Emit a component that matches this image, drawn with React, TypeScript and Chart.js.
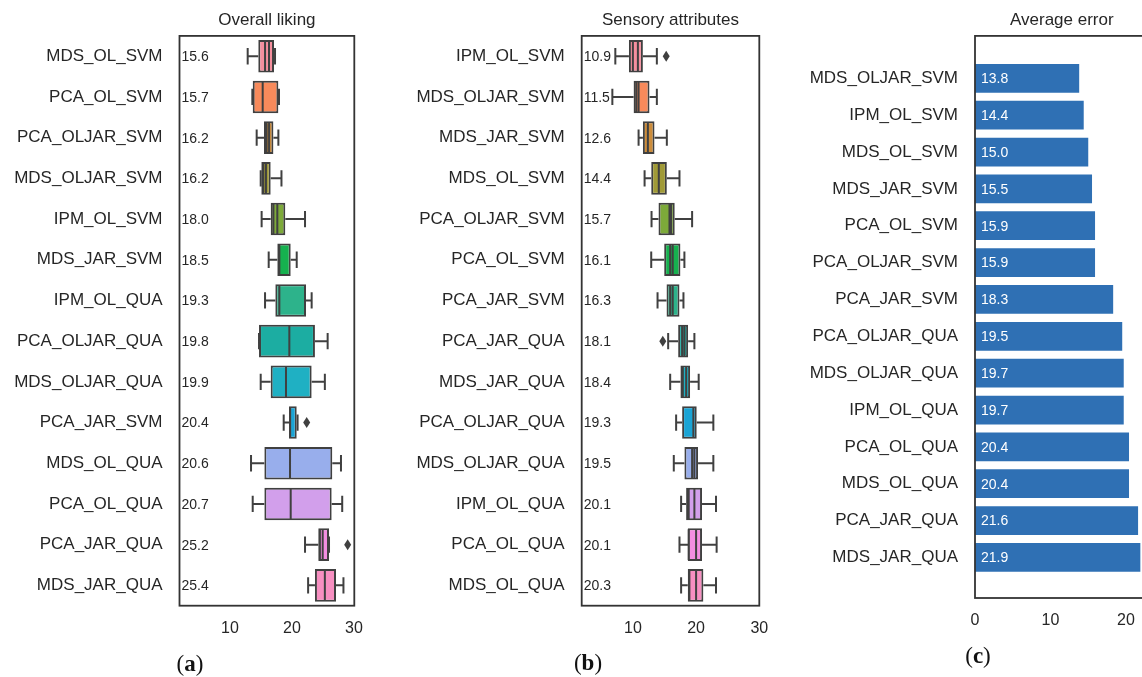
import React, { useEffect, useRef } from "react";
import { Chart, registerables } from "chart.js";

Chart.register(...registerables);

// ---------- DATA ----------
const categoriesA = [
  "MDS_OL_SVM", "PCA_OL_SVM", "PCA_OLJAR_SVM", "MDS_OLJAR_SVM", "IPM_OL_SVM", "MDS_JAR_SVM", "IPM_OL_QUA",
  "PCA_OLJAR_QUA", "MDS_OLJAR_QUA", "PCA_JAR_SVM", "MDS_OL_QUA", "PCA_OL_QUA", "PCA_JAR_QUA", "MDS_JAR_QUA",
];
const meanLabelsA = [15.6, 15.7, 16.2, 16.2, 18.0, 18.5, 19.3, 19.8, 19.9, 20.4, 20.6, 20.7, 25.2, 25.4];
const whiskerLoA = [12.85, 13.6, 14.3, 14.95, 15.1, 16.24, 15.65, 14.68, 14.95, 18.66, 13.39, 13.66, 22.1, 22.6];
const q1A = [14.56, 13.66, 15.48, 15.05, 16.56, 17.63, 17.31, 14.68, 16.56, 19.52, 15.54, 15.54, 24.24, 23.7];
const medianA = [16.29, 15.27, 15.9, 15.37, 17.0, 17.96, 17.96, 19.57, 19.03, 19.7, 19.68, 19.79, 24.5, 25.3];
const meanLineA = [15.65, 15.27, 16.3, 15.8, 17.63, 17.96, 17.96, 19.57, 19.03, 19.7, 19.68, 19.79, 24.95, 25.3];
const q3A = [17.1, 17.8, 17.0, 16.56, 18.92, 19.79, 22.26, 23.7, 23.17, 20.76, 26.5, 26.4, 25.97, 27.1];
const whiskerHiA = [17.26, 17.9, 17.8, 18.3, 22.1, 20.76, 23.17, 25.75, 25.3, 20.9, 27.9, 28.1, 25.97, 28.3];
const fliersA: number[][] = [[], [], [], [], [], [], [], [], [], [22.37], [], [], [28.98], []];

const categoriesB = [
  "IPM_OL_SVM", "MDS_OLJAR_SVM", "MDS_JAR_SVM", "MDS_OL_SVM", "PCA_OLJAR_SVM", "PCA_OL_SVM", "PCA_JAR_SVM",
  "PCA_JAR_QUA", "MDS_JAR_QUA", "PCA_OLJAR_QUA", "MDS_OLJAR_QUA", "IPM_OL_QUA", "PCA_OL_QUA", "MDS_OL_QUA",
];
const meanLabelsB = [10.9, 11.5, 12.6, 14.4, 15.7, 16.1, 16.3, 18.1, 18.4, 19.3, 19.5, 20.1, 20.1, 20.3];
const whiskerLoB = [7.22, 6.75, 10.9, 11.85, 12.95, 12.9, 13.9, 15.58, 15.9, 16.84, 16.47, 17.63, 17.37, 17.63];
const q1B = [9.37, 10.11, 11.58, 12.9, 14.05, 14.95, 15.32, 17.16, 17.52, 17.79, 18.15, 18.42, 18.68, 18.68];
const medianB = [10.0, 10.53, 12.37, 14.1, 15.79, 15.9, 15.9, 17.79, 17.9, 19.57, 19.37, 18.83, 18.83, 18.94];
const meanLineB = [10.79, 10.9, 12.37, 14.1, 16.05, 16.3, 16.3, 18.15, 18.43, 19.57, 19.73, 19.73, 20.0, 20.0];
const q3B = [11.58, 12.63, 13.42, 15.37, 16.62, 17.52, 17.37, 18.74, 19.05, 20.1, 20.31, 20.94, 20.94, 21.15];
const whiskerHiB = [13.79, 13.79, 15.37, 17.37, 19.37, 18.15, 18.0, 19.73, 20.41, 22.73, 22.73, 23.15, 23.25, 23.15];
const fliersB: number[][] = [[15.27], [], [], [], [], [], [], [14.73], [], [], [], [], [], []];

const categoriesC = [
  "MDS_OLJAR_SVM", "IPM_OL_SVM", "MDS_OL_SVM", "MDS_JAR_SVM", "PCA_OL_SVM", "PCA_OLJAR_SVM", "PCA_JAR_SVM",
  "PCA_OLJAR_QUA", "MDS_OLJAR_QUA", "IPM_OL_QUA", "PCA_OL_QUA", "MDS_OL_QUA", "PCA_JAR_QUA", "MDS_JAR_QUA",
];
const errorsC = [13.8, 14.4, 15.0, 15.5, 15.9, 15.9, 18.3, 19.5, 19.7, 19.7, 20.4, 20.4, 21.6, 21.9];

const ticksAB = [10, 20, 30];
const ticksC = [0, 10, 20];

// ---------- STYLE ----------
const FONT = "'Liberation Sans', Arial, sans-serif";
const TEXT = "#262626";
const EDGE = "#404040";
const FRAME = "#333333";
const BAR_COLOR = "#2f70b4";
const PALETTE = [
  "#f58f9e", "#f88a5b", "#cd8d3b", "#a09a37", "#7daa3a", "#16b14f", "#2db38b",
  "#1cada2", "#1fb0c3", "#1aa4d5", "#98aeec", "#d29feb", "#f38ee1", "#f78fc1",
];

type Panel = {
  title: string;
  categories: string[];
  lo: number[]; q1: number[]; med: number[]; mean: number[]; q3: number[]; hi: number[];
  fliers: number[][];
  labels: number[];
  xMin: number; xMax: number;
  yAxisWidth: number; padRight: number; xAxisHeight: number;
};

const panelA: Panel = {
  title: "Overall liking", categories: categoriesA,
  lo: whiskerLoA, q1: q1A, med: medianA, mean: meanLineA, q3: q3A, hi: whiskerHiA,
  fliers: fliersA, labels: meanLabelsA,
  xMin: 1.85, xMax: 30.05, yAxisWidth: 179.5, padRight: 15.7, xAxisHeight: 71.3,
};
const panelB: Panel = {
  title: "Sensory attributes", categories: categoriesB,
  lo: whiskerLoB, q1: q1B, med: medianB, mean: meanLineB, q3: q3B, hi: whiskerHiB,
  fliers: fliersB, labels: meanLabelsB,
  xMin: 1.9, xMax: 30.0, yAxisWidth: 201.7, padRight: 15.7, xAxisHeight: 71.3,
};

const framePlugin = {
  id: "frame",
  afterDatasetsDraw(chart: any) {
    const { ctx, chartArea: a } = chart;
    ctx.save();
    ctx.strokeStyle = FRAME;
    ctx.lineWidth = 1.8;
    ctx.strokeRect(a.left, a.top, a.right - a.left, a.bottom - a.top);
    ctx.restore();
  },
};

function makeBoxPlugin(p: Panel) {
  return {
    id: "boxExtras",
    afterDatasetsDraw(chart: any) {
      const { ctx, chartArea } = chart;
      const xs = chart.scales.x;
      const ys = chart.scales.y;
      const meta = chart.getDatasetMeta(0);
      ctx.save();
      ctx.strokeStyle = EDGE;
      ctx.fillStyle = EDGE;
      ctx.lineWidth = 2;
      ctx.lineCap = "butt";
      p.categories.forEach((_, i) => {
        const el = meta.data[i];
        const y = ys.getPixelForValue(i);
        const h = el.height;
        const X = (v: number) => xs.getPixelForValue(v);
        ctx.beginPath();
        ctx.moveTo(X(p.lo[i]), y); ctx.lineTo(X(p.q1[i]), y);
        ctx.moveTo(X(p.q3[i]), y); ctx.lineTo(X(p.hi[i]), y);
        ctx.moveTo(X(p.lo[i]), y - h / 4); ctx.lineTo(X(p.lo[i]), y + h / 4);
        ctx.moveTo(X(p.hi[i]), y - h / 4); ctx.lineTo(X(p.hi[i]), y + h / 4);
        ctx.moveTo(X(p.med[i]), y - h / 2 + 1); ctx.lineTo(X(p.med[i]), y + h / 2 - 1);
        ctx.moveTo(X(p.mean[i]), y - h / 2 + 1); ctx.lineTo(X(p.mean[i]), y + h / 2 - 1);
        ctx.stroke();
        p.fliers[i].forEach((f) => {
          const fx = X(f);
          ctx.beginPath();
          ctx.moveTo(fx, y - 5.5);
          ctx.lineTo(fx + 3.5, y);
          ctx.lineTo(fx, y + 5.5);
          ctx.lineTo(fx - 3.5, y);
          ctx.closePath();
          ctx.fill();
        });
      });
      ctx.fillStyle = TEXT;
      ctx.font = `14px ${FONT}`;
      ctx.textAlign = "left";
      ctx.textBaseline = "middle";
      p.labels.forEach((v, i) => {
        ctx.fillText(v.toFixed(1), chartArea.left + 2, ys.getPixelForValue(i) + 1);
      });
      ctx.restore();
    },
  };
}

const noPadFit = (h: number) => (s: any) => {
  s.height = h;
  s.paddingLeft = 0;
  s.paddingRight = 0;
};

function buildBox(canvas: HTMLCanvasElement, p: Panel) {
  return new Chart(canvas, {
    type: "bar",
    data: {
      labels: p.categories,
      datasets: [
        {
          data: p.q1.map((v, i) => [v, p.q3[i]]),
          backgroundColor: PALETTE,
          borderColor: EDGE,
          borderWidth: 2,
          borderSkipped: false,
          categoryPercentage: 1,
          barPercentage: 0.8,
        } as any,
      ],
    },
    options: {
      indexAxis: "y",
      responsive: false,
      animation: false,
      layout: { padding: { left: 0, right: p.padRight, top: 0, bottom: 0 } },
      plugins: {
        legend: { display: false },
        tooltip: { enabled: false },
        title: {
          display: true,
          text: p.title,
          color: TEXT,
          font: { family: FONT, size: 17, weight: "normal" },
          padding: { top: 10.5, bottom: 5 },
          fullSize: false,
        },
      },
      scales: {
        x: {
          type: "linear",
          min: p.xMin,
          max: p.xMax,
          grid: { display: false, drawTicks: false },
          border: { display: false },
          ticks: { color: TEXT, font: { family: FONT, size: 16 }, padding: 13, maxRotation: 0 },
          afterBuildTicks: (s: any) => { s.ticks = ticksAB.map((v) => ({ value: v })); },
          afterFit: noPadFit(p.xAxisHeight),
        },
        y: {
          type: "category",
          grid: { display: false, drawTicks: false },
          border: { display: false },
          ticks: { color: TEXT, font: { family: FONT, size: 17 }, padding: 17, autoSkip: false },
          afterFit: (s: any) => { s.width = p.yAxisWidth; s.paddingTop = 0; s.paddingBottom = 0; },
        },
      },
    } as any,
    plugins: [framePlugin, makeBoxPlugin(p)],
  });
}

function buildBar(canvas: HTMLCanvasElement) {
  const labelPlugin = {
    id: "barLabels",
    afterDatasetsDraw(chart: any) {
      const { ctx } = chart;
      const meta = chart.getDatasetMeta(0);
      ctx.save();
      ctx.fillStyle = "#ffffff";
      ctx.font = `14px ${FONT}`;
      ctx.textAlign = "left";
      ctx.textBaseline = "middle";
      meta.data.forEach((el: any, i: number) => {
        ctx.fillText(errorsC[i].toFixed(1), el.base + 6, el.y + 1);
      });
      ctx.restore();
    },
  };
  return new Chart(canvas, {
    type: "bar",
    data: {
      datasets: [
        {
          data: errorsC.map((v, i) => ({ x: v, y: i })),
          backgroundColor: BAR_COLOR,
          borderWidth: 0,
          categoryPercentage: 1,
          barPercentage: 0.78,
        } as any,
      ],
    },
    options: {
      indexAxis: "y",
      responsive: false,
      animation: false,
      layout: { padding: { left: 0, right: 6.35, top: 0, bottom: 0 } },
      plugins: {
        legend: { display: false },
        tooltip: { enabled: false },
        title: {
          display: true,
          text: "Average error",
          color: TEXT,
          font: { family: FONT, size: 17, weight: "normal" },
          padding: { top: 10.5, bottom: 5 },
          fullSize: false,
        },
      },
      scales: {
        x: {
          type: "linear",
          min: 0,
          max: 23,
          grid: { display: false, drawTicks: false },
          border: { display: false },
          ticks: { color: TEXT, font: { family: FONT, size: 16 }, padding: 13, maxRotation: 0 },
          afterBuildTicks: (s: any) => { s.ticks = ticksC.map((v) => ({ value: v })); },
          afterFit: noPadFit(79),
        },
        y: {
          type: "linear",
          min: -1.15,
          max: 14.1,
          reverse: true,
          offset: false,
          grid: { display: false, drawTicks: false, offset: false },
          border: { display: false },
          ticks: {
            color: TEXT,
            font: { family: FONT, size: 17 },
            padding: 17,
            autoSkip: false,
            callback: (v: any) => categoriesC[v as number] ?? "",
          },
          afterBuildTicks: (s: any) => { s.ticks = categoriesC.map((_, i) => ({ value: i })); },
          afterFit: (s: any) => { s.width = 200; s.paddingTop = 0; s.paddingBottom = 0; },
        },
      },
    } as any,
    plugins: [framePlugin, labelPlugin],
  });
}

const captionStyle = (x: number, y: number): React.CSSProperties => ({
  position: "absolute",
  left: x,
  top: y,
  transform: "translate(-50%, -50%)",
  fontFamily: "'Liberation Serif', 'Times New Roman', serif",
  fontSize: 23,
  color: "#111",
  lineHeight: 1,
  whiteSpace: "nowrap",
});

export default function App() {
  const refA = useRef<HTMLCanvasElement>(null);
  const refB = useRef<HTMLCanvasElement>(null);
  const refC = useRef<HTMLCanvasElement>(null);

  useEffect(() => {
    const charts = [
      buildBox(refA.current!, panelA),
      buildBox(refB.current!, panelB),
      buildBar(refC.current!),
    ];
    return () => charts.forEach((c) => c.destroy());
  }, []);

  return (
    <div style={{ position: "fixed", left: 0, top: 0, width: 1142, height: 677, overflow: "hidden", background: "#fff" }}>
      <canvas ref={refA} width={370} height={677} style={{ position: "absolute", left: 0, top: 0 }} />
      <canvas ref={refB} width={395} height={677} style={{ position: "absolute", left: 380, top: 0 }} />
      <canvas ref={refC} width={380} height={677} style={{ position: "absolute", left: 775, top: 0 }} />
      <div style={captionStyle(190, 663)}>(<b>a</b>)</div>
      <div style={captionStyle(588, 662)}>(<b>b</b>)</div>
      <div style={captionStyle(978, 655)}>(<b>c</b>)</div>
    </div>
  );
}
